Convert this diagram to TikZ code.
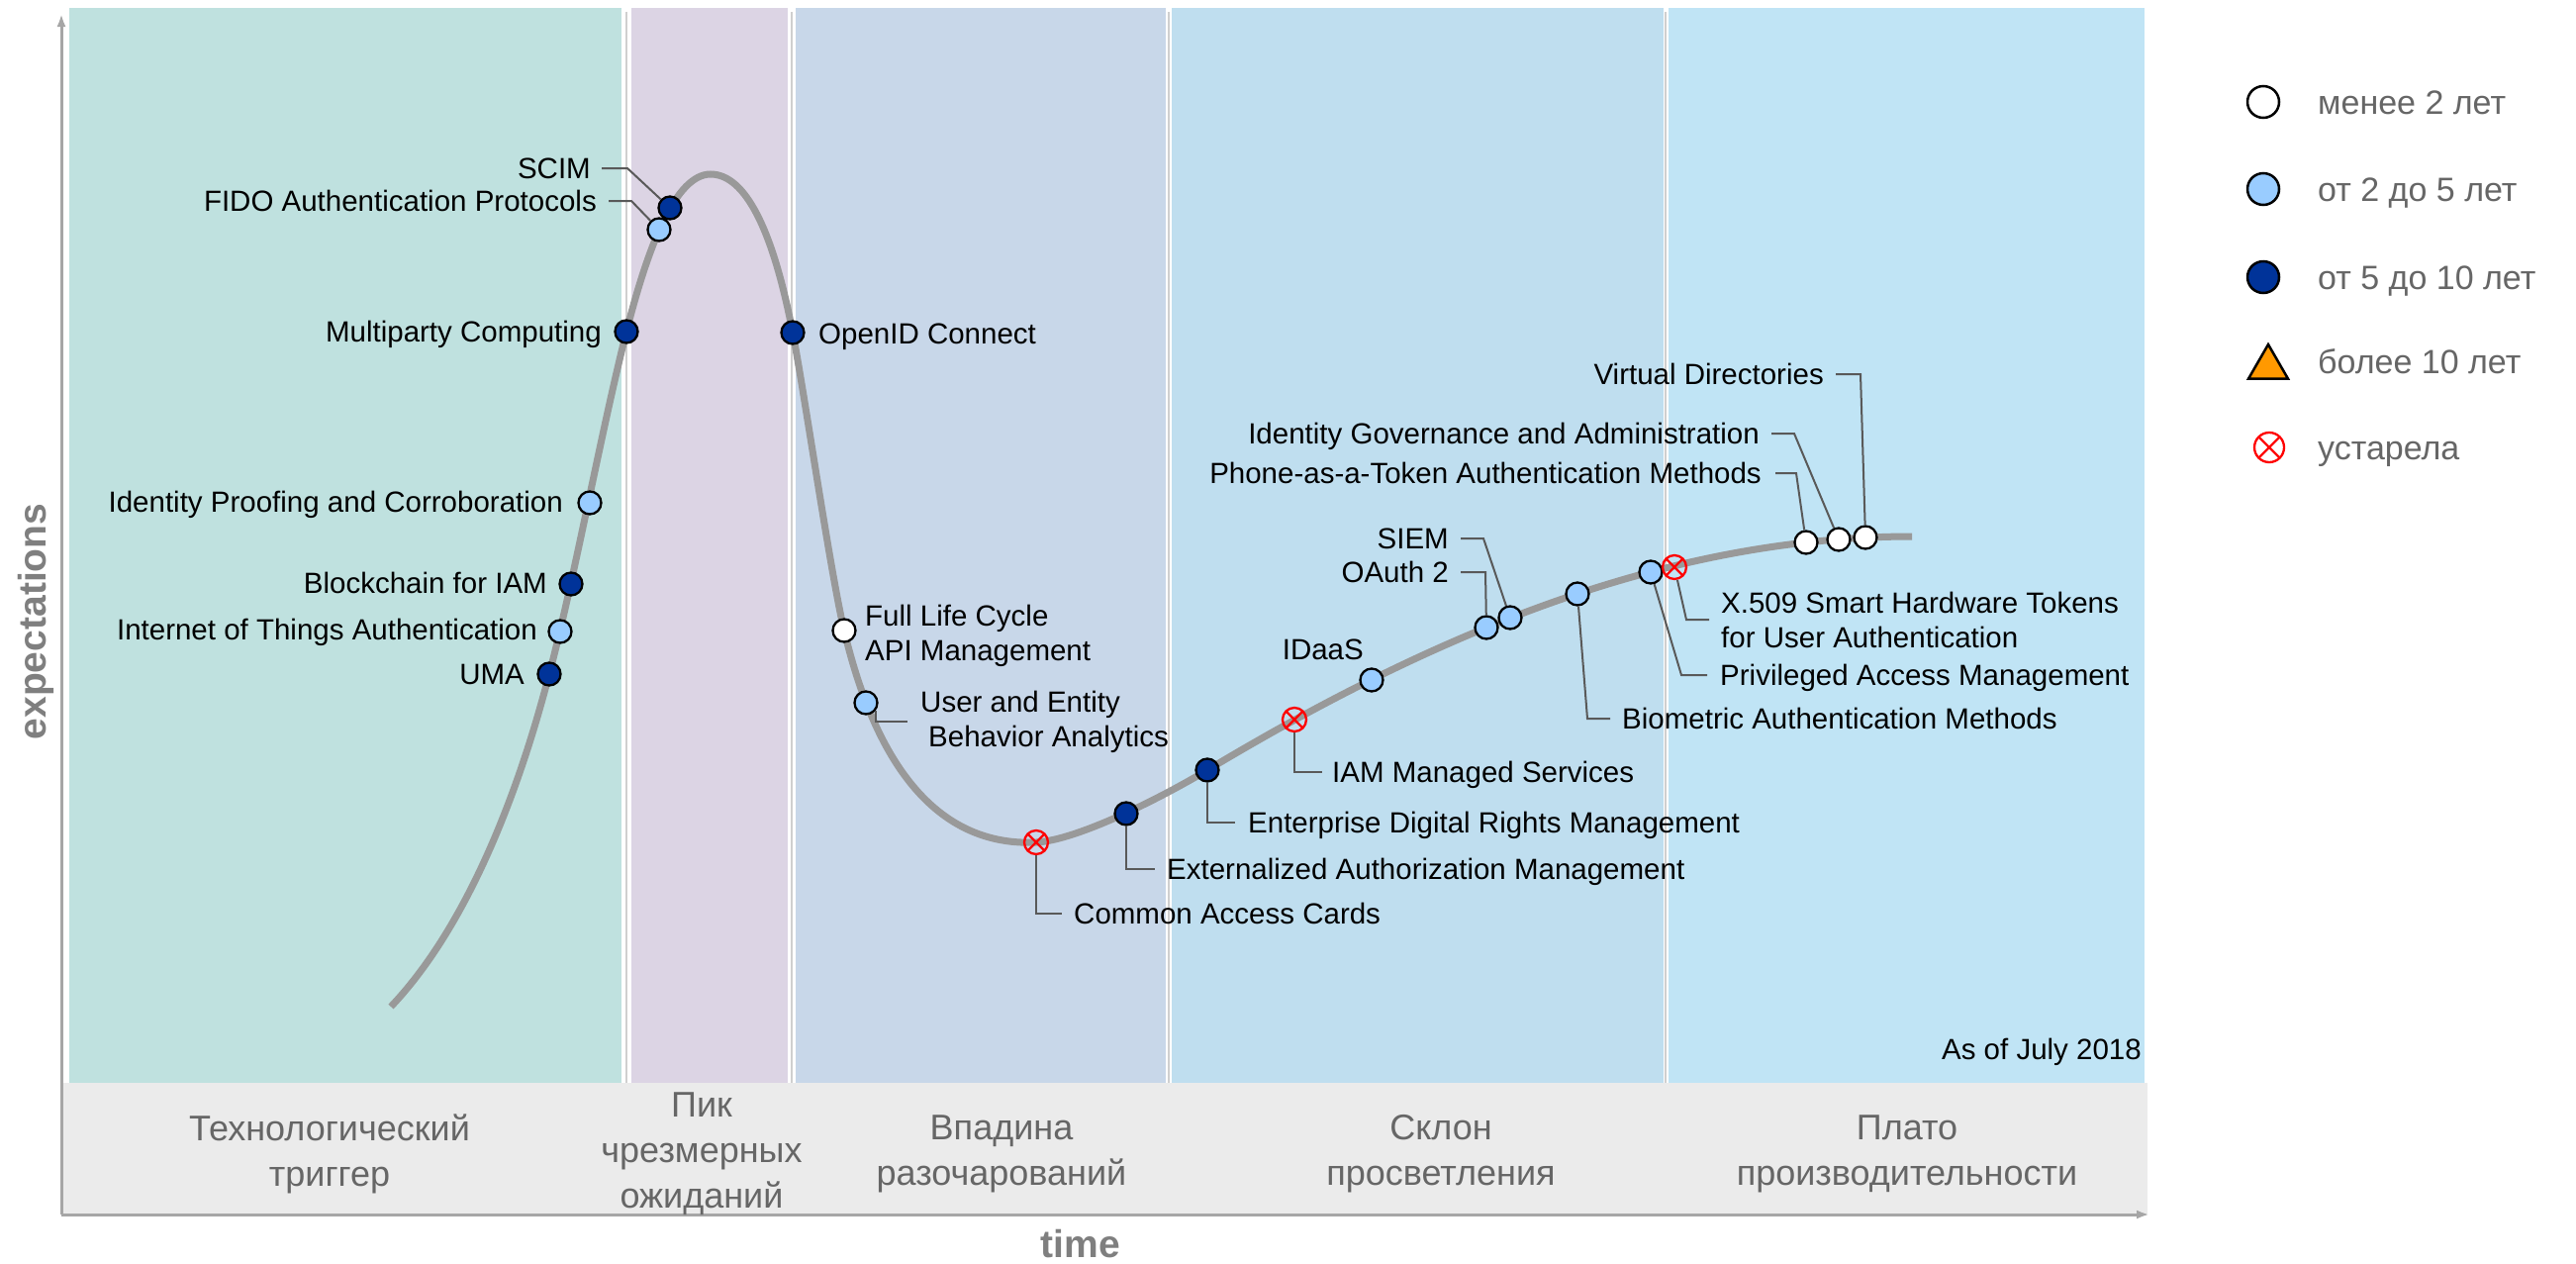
\documentclass[tikz,border=0pt]{standalone}
\usepackage{fontspec}
\setmainfont{Liberation Sans}
\usetikzlibrary{arrows.meta,shapes.geometric,calc}

\definecolor{trigcol}{HTML}{BFE1DF}
\definecolor{peakcol}{HTML}{DCD4E4}
\definecolor{troughcol}{HTML}{C8D7E9}
\definecolor{slopecol}{HTML}{BFDEEF}
\definecolor{platcol}{HTML}{C0E4F5}
\definecolor{bandgrey}{HTML}{EBEBEB}
\definecolor{sepgrey}{HTML}{CFCFCF}
\definecolor{curvegrey}{HTML}{999999}
\definecolor{axisgrey}{HTML}{A6A6A6}
\definecolor{leadgrey}{HTML}{595959}
\definecolor{txtgrey}{HTML}{666666}
\definecolor{axtxtgrey}{HTML}{7F7F7F}
\definecolor{midblue}{HTML}{99CCFF}
\definecolor{deepblue}{HTML}{003399}
\definecolor{amber}{HTML}{FF9900}

\newcommand\itemfont{\fontsize{29.5}{35}\selectfont}
\newcommand\phasefont{\fontsize{36}{46}\selectfont}
\newcommand\keyfont{\fontsize{34}{40}\selectfont}
\newcommand\axisfont{\fontsize{39}{46}\selectfont\bfseries}

\begin{document}
\begin{tikzpicture}[x=1pt,y=-1pt,
    dot/.style={circle,draw=black,line width=2.3pt,minimum size=23pt,inner sep=0pt},
    young/.style={dot,fill=white},
    mid/.style={dot,fill=midblue},
    old/.style={dot,fill=deepblue},
    gone/.style={circle,draw=red,line width=2.3pt,minimum size=24pt,inner sep=0pt,
      path picture={\draw[red,line width=2.3pt]
        (path picture bounding box.north west) -- (path picture bounding box.south east)
        (path picture bounding box.north east) -- (path picture bounding box.south west);}},
    lbl/.style={font=\itemfont,inner sep=0pt,text=black,text height=21pt,text depth=0pt},
    lbltwo/.style={font=\itemfont,inner sep=0pt,text=black,align=left},
    lead/.style={draw=leadgrey,line width=2pt},
    phase/.style={font=\phasefont,text=txtgrey,align=center},
    key/.style={font=\keyfont,text=txtgrey,anchor=west,inner sep=0pt,text height=24pt,text depth=0pt},
    sepline/.style={draw=sepgrey,line width=2.5pt},
    axis/.style={draw=axisgrey,line width=3pt,-{Latex[length=13pt,width=9pt]}}]

  \useasboundingbox (0,0) rectangle (2603,1277);
  \fill[white] (0,0) rectangle (2603,1277);

  \begin{scope}
    \def\bandtop{8}
    \def\bandbot{1094}
    \foreach \xa/\xb/\col in {70/628/trigcol,638/796/peakcol,804/1178/troughcol,1184/1681/slopecol,1686/2167/platcol}
      \fill[\col] (\xa,\bandtop) rectangle (\xb,\bandbot);
    \foreach \xs in {633,800,1181,1683}
      \draw[sepline] (\xs,12) -- (\xs,\bandbot);
    \fill[bandgrey] (62,\bandbot) rectangle (2170,1226);
  \end{scope}

  \coordinate (origin) at (62,1227);
  \coordinate (ytop) at (62,14);
  \coordinate (xend) at (2172,1227);
  \draw[axis] (origin) -- (ytop);
  \draw[axis] (origin) -- (xend);

  \node[font=\axisfont,text=axtxtgrey,rotate=90] (ylbl) at (36,628) {expectations};
  \node[font=\axisfont,text=axtxtgrey] (xlbl) at (1092,1257) {time};

  \node[phase] (phtrig) at (333,1166) {Технологический\\триггер};
  \node[phase] (phpeak) at (709,1166) {Пик\\чрезмерных\\ожиданий};
  \node[phase] (phtrough) at (1012,1166) {Впадина\\разочарований};
  \node[phase] (phslope) at (1456,1166) {Склон\\просветления};
  \node[phase] (phplat) at (1927,1166) {Плато\\производительности};

  \draw[curvegrey,line width=7pt] (395,1017) .. controls (495,912) and (543,726) .. (555,681)
    .. controls (581,582) and (607,438) .. (633,335)
    .. controls (655,248) and (683,176) .. (718,176)
    .. controls (753,176) and (781,232) .. (801,336)
    .. controls (813,398) and (839,578) .. (853,637)
    .. controls (881,755) and (937,856) .. (1047,851)
    .. controls (1087,849) and (1170,808) .. (1220,778)
    .. controls (1460,634) and (1692,542) .. (1932,542);

  \node[old]   (uma)     at (555,681) {};
  \node[mid]   (iot)     at (566,638) {};
  \node[old]   (chain)   at (577,590) {};
  \node[mid]   (proof)   at (596,508) {};
  \node[old]   (mpc)     at (633,335) {};
  \node[mid]   (fido)    at (666,232) {};
  \node[old]   (scim)    at (677,210) {};
  \node[old]   (oidc)    at (801,336) {};
  \node[young] (fllc)    at (853,637) {};
  \node[mid]   (ueba)    at (875,710) {};
  \node[gone]  (cac)     at (1047,851) {};
  \node[old]   (extauth) at (1138,822) {};
  \node[old]   (edrm)    at (1220,778) {};
  \node[gone]  (iamms)   at (1308,727) {};
  \node[mid]   (idaas)   at (1386,687) {};
  \node[mid]   (oauth)   at (1502,634) {};
  \node[mid]   (siem)    at (1526,624) {};
  \node[mid]   (bio)     at (1594,600) {};
  \node[mid]   (pam)     at (1668,578) {};
  \node[gone]  (xfive)   at (1692,573) {};
  \node[young] (phone)   at (1825,548) {};
  \node[young] (iga)     at (1858,545) {};
  \node[young] (vdir)    at (1885,543) {};

  \node[lbl,anchor=east] (umalbl) at (530,681) {UMA};
  \node[lbl,anchor=east] (iotlbl) at (543,636) {Internet of Things Authentication};
  \node[lbl,anchor=east] (chainlbl) at (553,589) {Blockchain for IAM};
  \node[lbl,anchor=east] (prooflbl) at (569,507) {Identity Proofing and Corroboration};
  \node[lbl,anchor=east] (mpclbl) at (608,335) {Multiparty Computing};
  \node[lbl,anchor=east] (fidolbl) at (603,203) {FIDO Authentication Protocols};
  \node[lbl,anchor=east] (scimlbl) at (597,170) {SCIM};
  \node[lbl,anchor=west] (oidclbl) at (827,337) {OpenID Connect};
  \node[lbltwo,anchor=west] (fllclbl) at (874,642) {Full Life Cycle\\API Management};
  \node[lbltwo,anchor=west] (uebalbl) at (930,729) {User and Entity\\\hspace*{8pt}Behavior Analytics};
  \node[lbl,anchor=west] (caclbl) at (1085,923) {Common Access Cards};
  \node[lbl,anchor=west] (extauthlbl) at (1179,878) {Externalized Authorization Management};
  \node[lbl,anchor=west] (edrmlbl) at (1261,831) {Enterprise Digital Rights Management};
  \node[lbl,anchor=west] (iammslbl) at (1346,780) {IAM Managed Services};
  \node[lbl,anchor=east] (idaaslbl) at (1378,656) {IDaaS};
  \node[lbl,anchor=east] (oauthlbl) at (1464,578) {OAuth 2};
  \node[lbl,anchor=east] (siemlbl) at (1464,544) {SIEM};
  \node[lbl,anchor=west] (biolbl) at (1639,726) {Biometric Authentication Methods};
  \node[lbl,anchor=west] (pamlbl) at (1738,682) {Privileged Access Management};
  \node[lbltwo,anchor=west] (xfivelbl) at (1739,626) {X.509 Smart Hardware Tokens\\for User Authentication};
  \node[lbl,anchor=east] (phonelbl) at (1780,478) {Phone-as-a-Token Authentication Methods};
  \node[lbl,anchor=east] (igalbl) at (1778,438) {Identity Governance and Administration};
  \node[lbl,anchor=east] (vdirlbl) at (1843,378) {Virtual Directories};

  \draw[lead] ([xshift=11pt]scimlbl.east) -- ([xshift=37pt]scimlbl.east) -- (scim);
  \draw[lead] ([xshift=12pt]fidolbl.east) -- ([xshift=35pt]fidolbl.east) -- (fido);
  \draw[lead] (ueba.-40) |- ([xshift=-13pt]uebalbl.west);
  \draw[lead] (cac) |- ([xshift=-12pt]caclbl.west);
  \draw[lead] (extauth) |- ([xshift=-12pt]extauthlbl.west);
  \draw[lead] (edrm) |- ([xshift=-13pt]edrmlbl.west);
  \draw[lead] (iamms) |- ([xshift=-10pt]iammslbl.west);
  \draw[lead] ([xshift=12pt]oauthlbl.east) -- ([xshift=37pt]oauthlbl.east) -- (oauth);
  \draw[lead] ([xshift=12pt]siemlbl.east) -- ([xshift=35pt]siemlbl.east) -- (siem);
  \draw[lead] (bio) -- ([xshift=-35pt]biolbl.west) -- ([xshift=-12pt]biolbl.west);
  \draw[lead] (pam) -- ([xshift=-39pt]pamlbl.west) -- ([xshift=-13pt]pamlbl.west);
  \draw[lead] (xfive) -- ([xshift=-35pt]xfivelbl.west) -- ([xshift=-12pt]xfivelbl.west);
  \draw[lead] ([xshift=14pt]phonelbl.east) -- ([xshift=35pt]phonelbl.east) -- (phone);
  \draw[lead] ([xshift=12pt]igalbl.east) -- ([xshift=35pt]igalbl.east) -- (iga);
  \draw[lead] ([xshift=12pt]vdirlbl.east) -- ([xshift=37pt]vdirlbl.east) -- (vdir);

  \node[lbl,anchor=east] (asof) at (2164,1060) {As of July 2018};

  \node[young,minimum size=32pt,line width=2.5pt] (keya) at (2287,103) {};
  \node[mid,minimum size=32pt,line width=2.5pt] (keyb) at (2287,191) {};
  \node[old,minimum size=32pt,line width=2.5pt] (keyc) at (2287,280) {};
  \node[draw=black,fill=amber,line width=2.5pt,regular polygon,regular polygon sides=3,
    minimum size=46pt,inner sep=0pt] (keyd) at (2292,371) {};
  \node[gone,minimum size=30pt] (keye) at (2293,452) {};
  \node[key] (keyatxt) at (2342,103) {менее 2 лет};
  \node[key] (keybtxt) at (2342,191) {от 2 до 5 лет};
  \node[key] (keyctxt) at (2342,280) {от 5 до 10 лет};
  \node[key] (keydtxt) at (2342,365) {более 10 лет};
  \node[key] (keyetxt) at (2342,452) {устарела};
\end{tikzpicture}
\end{document}
